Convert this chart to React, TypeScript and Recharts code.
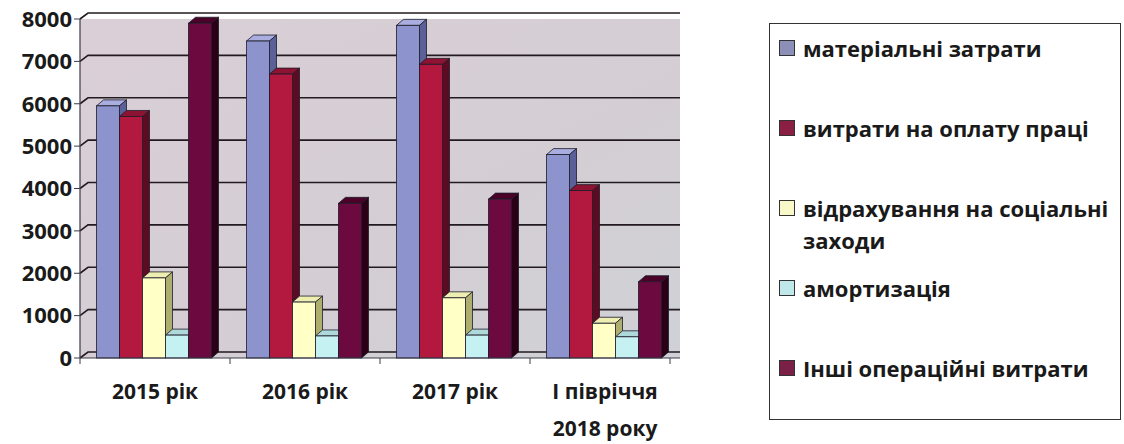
import React from 'react';
import { BarChart, Bar, XAxis, YAxis, CartesianGrid } from 'recharts';

const categories = ['2015 рік', '2016 рік', '2017 рік', 'І півріччя\n2018 року'];
const seriesNames = [
  'матеріальні затрати',
  'витрати на оплату праці',
  'відрахування на соціальні\nзаходи',
  'амортизація',
  'Інші операційні витрати',
];
const material = [5950, 7480, 7850, 4800];
const labor = [5700, 6700, 6930, 3950];
const social = [1890, 1320, 1420, 820];
const amortization = [540, 520, 540, 500];
const other = [7900, 3650, 3750, 1800];
const yTicks = [0, 1000, 2000, 3000, 4000, 5000, 6000, 7000, 8000];

// front / top / side face colours, legend swatch colour
const palette = [
  { front: '#8d93cc', top: '#a9addf', side: '#5b6098', legend: '#8c8fb8' },
  { front: '#b3193f', top: '#8e1232', side: '#5c0b22', legend: '#8a1f43' },
  { front: '#ffffc6', top: '#eeeeb2', side: '#aeae6e', legend: '#f8f8c8' },
  { front: '#c6f1f3', top: '#aed8da', side: '#7fa2a3', legend: '#c0e8ea' },
  { front: '#6c0a3f', top: '#4b0229', side: '#2a0016', legend: '#7a1f45' },
];

const seriesData = [material, labor, social, amortization, other];
const data = categories.map((name, i) => {
  const row: Record<string, string | number> = { name };
  seriesData.forEach((s, k) => (row[`s${k}`] = s[i]));
  return row;
});

const W = 1124;
const H = 444;
const PLOT_LEFT = 80;
const PLOT_RIGHT = 680;
const DX = 7;
const DY = 6;
const FONT = '"Open Sans", "DejaVu Sans", sans-serif';

const make3D = (c: (typeof palette)[number]) => (p: any) => {
  const { x, y, width: w, height: h } = p;
  if (!h || h <= 0) return <g />;
  const stroke = '#1c1c2a';
  return (
    <g>
      <polygon
        points={`${x},${y} ${x + DX},${y - DY} ${x + w + DX},${y - DY} ${x + w},${y}`}
        fill={c.top}
        stroke={stroke}
        strokeWidth={0.8}
      />
      <polygon
        points={`${x + w},${y} ${x + w + DX},${y - DY} ${x + w + DX},${y + h - DY} ${x + w},${y + h}`}
        fill={c.side}
        stroke={stroke}
        strokeWidth={0.8}
      />
      <rect x={x} y={y} width={w} height={h} fill={c.front} stroke={stroke} strokeWidth={0.8} />
    </g>
  );
};

const GridLine = (p: any) => {
  const { x1, y1, x2 } = p;
  return (
    <polyline
      points={`${x1},${y1} ${x1 + 8},${y1 - DY} ${x2},${y1 - DY}`}
      fill="none"
      stroke="#231a20"
      strokeWidth={1.6}
    />
  );
};

const band = (PLOT_RIGHT - PLOT_LEFT) / categories.length;

const XTick = (p: any) => {
  const { x, y, payload, index } = p;
  const lines = String(payload.value).split('\n');
  const last = index === categories.length - 1;
  return (
    <g>
      {index === 0 && <line x1={x - band / 2} y1={y} x2={x - band / 2} y2={y + 6} stroke="#3a3a4a" />}
      <line x1={x + band / 2 - (last ? 10 : 0)} y1={y} x2={x + band / 2 - (last ? 10 : 0)} y2={y + 6} stroke="#3a3a4a" />
      <text x={x} y={y} textAnchor="middle" fontFamily={FONT} fontWeight={700} fontSize={21} fill="#1a1a1a">
        {lines.map((l, i) => (
          <tspan key={i} x={x} dy={i === 0 ? 41 : 37}>
            {l}
          </tspan>
        ))}
      </text>
    </g>
  );
};

export default function App() {
  return (
    <div style={{ position: 'fixed', left: 0, top: 0, width: W, height: H, background: '#fff' }}>
      <BarChart
        width={W}
        height={H}
        data={data}
        margin={{ top: 19, right: W - PLOT_RIGHT, bottom: 10, left: 0 }}
        barCategoryGap="11%"
        barGap={0}
      >
        <defs>
          <linearGradient id="wall" x1="0" y1="0" x2="1" y2="1">
            <stop offset="0%" stopColor="#dacfd6" />
            <stop offset="60%" stopColor="#d4ced4" />
            <stop offset="100%" stopColor="#cfd1d6" />
          </linearGradient>
        </defs>
        <CartesianGrid vertical={false} horizontal={GridLine} fill="url(#wall)" fillOpacity={1} />
        <XAxis
          dataKey="name"
          height={76}
          tickLine={false}
          tickSize={0}
          tickMargin={0}
          interval={0}
          axisLine={{ stroke: '#3a3a4a', strokeWidth: 1.2 }}
          tick={XTick}
        />
        <YAxis
          width={PLOT_LEFT}
          domain={[0, 8000]}
          ticks={yTicks}
          interval={0}
          tickSize={6}
          axisLine={{ stroke: '#3a3a4a', strokeWidth: 1.2 }}
          tickLine={{ stroke: '#3a3a4a' }}
          tick={{ fontFamily: FONT, fontWeight: 700, fontSize: 22, fill: '#1a1a1a' }}
        />
        {seriesNames.map((n, k) => (
          <Bar
            key={k}
            dataKey={`s${k}`}
            name={n}
            fill={palette[k].front}
            shape={make3D(palette[k])}
            isAnimationActive={false}
          />
        ))}
      </BarChart>
      <div
        style={{
          position: 'absolute',
          left: 769,
          top: 23,
          width: 352,
          height: 397,
          border: '1.5px solid #333',
          boxSizing: 'border-box',
          fontFamily: FONT,
          fontWeight: 700,
          fontSize: 22,
          color: '#1a1a1a',
        }}
      >
        {seriesNames.map((n, k) => (
          <div key={k} style={{ position: 'absolute', left: 9, top: 8 + k * 80, display: 'flex' }}>
            <div
              style={{
                width: 16,
                height: 16,
                marginTop: 8,
                marginRight: 8,
                background: palette[k].legend,
                border: '1px solid #333',
                boxSizing: 'border-box',
                flexShrink: 0,
              }}
            />
            <div style={{ whiteSpace: 'pre-line', lineHeight: '32px' }}>{n}</div>
          </div>
        ))}
      </div>
    </div>
  );
}
